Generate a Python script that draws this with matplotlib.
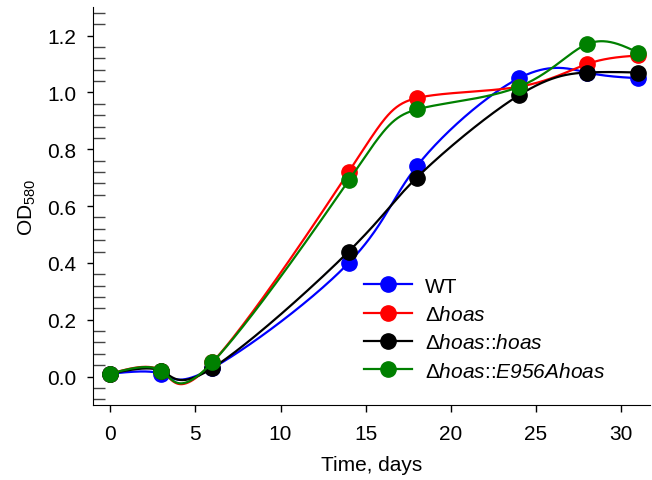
import numpy as np
import matplotlib
matplotlib.use('Agg')
import matplotlib.pyplot as plt
from matplotlib.ticker import MultipleLocator

plt.rcParams['font.family'] = ['Liberation Sans', 'DejaVu Sans']
plt.rcParams['mathtext.fontset'] = 'custom'
plt.rcParams['mathtext.rm'] = 'Liberation Sans'
plt.rcParams['mathtext.it'] = 'Liberation Sans:italic'
# bf slot used for italic text that also has digits in it
plt.rcParams['mathtext.bf'] = 'Liberation Sans:italic'

# data
days = [0, 3, 6, 14, 18, 24, 28, 31]
wt = [0.01, 0.01, 0.03, 0.40, 0.74, 1.05, 1.07, 1.05]
hoas = [0.01, 0.02, 0.05, 0.72, 0.98, 1.02, 1.10, 1.13]
hoas_hoas = [0.01, 0.02, 0.03, 0.44, 0.70, 0.99, 1.07, 1.07]
hoas_e956a = [0.01, 0.02, 0.05, 0.69, 0.94, 1.02, 1.17, 1.14]

labels = ['WT', r'Δ$\mathbf{hoas}$', r'Δ$\mathbf{hoas}$::$\mathbf{hoas}$',
          r'Δ$\mathbf{hoas}$::$\mathbf{E956Ahoas}$']
colors = ['#0000ff', '#ff0000', '#000000', '#008000']


#natural cubic spline of v against t
def natural(t, v, ts):
    k = len(t)
    h = np.diff(t)
    A = np.zeros((k, k))
    r = np.zeros(k)
    A[0, 0] = 1
    A[-1, -1] = 1
    for i in range(1, k - 1):
        A[i, i - 1] = h[i - 1]
        A[i, i] = 2 * (h[i - 1] + h[i])
        A[i, i + 1] = h[i]
        r[i] = 6 * ((v[i + 1] - v[i]) / h[i] - (v[i] - v[i - 1]) / h[i - 1])
    M = np.linalg.solve(A, r)
    idx = np.clip(np.searchsorted(t, ts) - 1, 0, k - 2)
    t0, t1 = t[idx], t[idx + 1]
    hh = t1 - t0
    a = (t1 - ts) / hh
    b = (ts - t0) / hh
    return a * v[idx] + b * v[idx + 1] + ((a**3 - a) * M[idx] + (b**3 - b) * M[idx + 1]) * hh**2 / 6


#parametric spline (x and y both against point index), only for drawing the smooth line
def spline(x, y, n=400):
    x = np.asarray(x, float)
    y = np.asarray(y, float)
    t = np.arange(len(x), dtype=float)
    ts = np.linspace(0, t[-1], n)
    return natural(t, x, ts), natural(t, y, ts)


fig = plt.figure(figsize=(6.52, 4.81), dpi=100)
ax = fig.add_axes([0.143, 0.156, 0.854, 0.827])

for vals, lab, c in zip([wt, hoas, hoas_hoas, hoas_e956a], labels, colors):
    xs, ys = spline(days, vals)
    ax.plot(xs, ys, color=c, lw=1.6)
    ax.plot(days, vals, 'o', color=c, ms=11)
    ax.plot([], [], '-o', color=c, lw=1.6, ms=11, label=lab)

ax.set_xlim(-1, 31.7)
ax.set_ylim(-0.1, 1.3)
ax.set_xticks([0, 5, 10, 15, 20, 25, 30])
ax.set_yticks([0.0, 0.2, 0.4, 0.6, 0.8, 1.0, 1.2])
ax.set_yticklabels(['0.0', '0.2', '0.4', '0.6', '0.8', '1.0', '1.2'])
ax.yaxis.set_minor_locator(MultipleLocator(0.04))
ax.tick_params(axis='x', which='major', direction='out', length=5, width=1, labelsize=15, pad=9)
ax.tick_params(axis='y', which='major', direction='out', length=4, width=1, labelsize=15, pad=8)
ax.tick_params(axis='y', which='minor', direction='in', length=8.7, width=1, color='#444444')
ax.spines['top'].set_visible(False)
ax.spines['right'].set_visible(False)

ax.set_xlabel('Time, days', fontsize=15, labelpad=8)
ax.set_ylabel('OD$_{580}$', fontsize=15, labelpad=7)

ax.legend(loc='lower left', bbox_to_anchor=(0.472, 0.04), frameon=False, fontsize=15,
          handlelength=2.3, labelspacing=0.45, handletextpad=0.6, borderaxespad=0)

plt.savefig('out.png', dpi=100)
